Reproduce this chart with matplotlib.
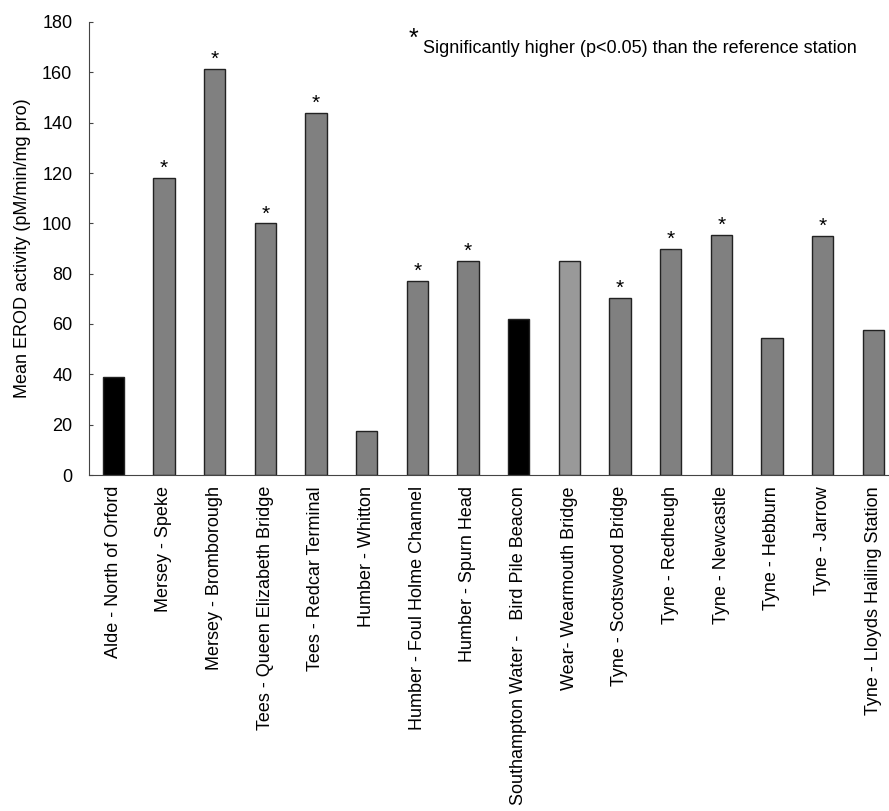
import matplotlib
matplotlib.use('Agg')
import matplotlib.pyplot as plt
import numpy as np

plt.rcParams['font.family'] = ['Liberation Sans', 'DejaVu Sans']

# Stazioni di campionamento e attivita' EROD media
stations = ['Alde - North of Orford', 'Mersey - Speke', 'Mersey - Bromborough',
            'Tees - Queen Elizabeth Bridge', 'Tees - Redcar Terminal', 'Humber - Whitton',
            'Humber - Foul Holme Channel', 'Humber - Spurn Head',
            'Southampton Water -   Bird Pile Beacon', 'Wear- Wearmouth Bridge',
            'Tyne - Scotswood Bridge', 'Tyne - Redheugh', 'Tyne - Newcastle',
            'Tyne - Hebburn', 'Tyne - Jarrow', 'Tyne - Lloyds Hailing Station']
erod = [39, 118, 161.5, 100, 144, 17.5, 77, 85, 62, 85, 70.5, 90, 95.5, 54.5, 95, 57.5]
signif = [False, True, True, True, True, False, True, True, False, False,
          True, True, True, False, True, False]
colors = ['black', 'grey', 'grey', 'grey', 'grey', 'grey', 'grey', 'grey', 'black',
          '#999999', 'grey', 'grey', 'grey', 'grey', 'grey', 'grey']

fs = 13

fig = plt.figure(figsize=(8.89, 8.11), dpi=100)
ax = fig.add_axes([89/889, 336/811, 800/889, 453/811])

x = np.arange(len(stations))
ax.bar(x, erod, width=0.42, color=colors, edgecolor='#222222', linewidth=1)

# Asterischi sopra le stazioni significative
for xi, v, s in zip(x, erod, signif):
    if s:
        ax.annotate('*', (xi, v), xytext=(0, 0), textcoords='offset points',
                    ha='center', va='bottom', fontsize=15)

ax.text(0.399, 0.962, '*', transform=ax.transAxes, fontsize=18, ha='left', va='center')
ax.text(0.417, 0.941, 'Significantly higher (p<0.05) than the reference station',
        transform=ax.transAxes, fontsize=fs, ha='left', va='center')

ax.set_xlim(-0.48, 15.31)
ax.set_ylim(0, 180)
ax.set_yticks(np.arange(0, 181, 20))
ax.set_xticks(x)
ax.set_xticklabels(stations, rotation=90, fontsize=fs)
ax.tick_params(axis='y', direction='in', length=3, color='#444444', labelsize=fs, pad=12)
ax.tick_params(axis='x', length=0, pad=8)
ax.set_ylabel('Mean EROD activity (pM/min/mg pro)', fontsize=fs, labelpad=8)

ax.spines['top'].set_visible(False)
ax.spines['right'].set_visible(False)
ax.spines['left'].set_color('#444444')
ax.spines['bottom'].set_color('#444444')

plt.savefig('out.png', dpi=100)
